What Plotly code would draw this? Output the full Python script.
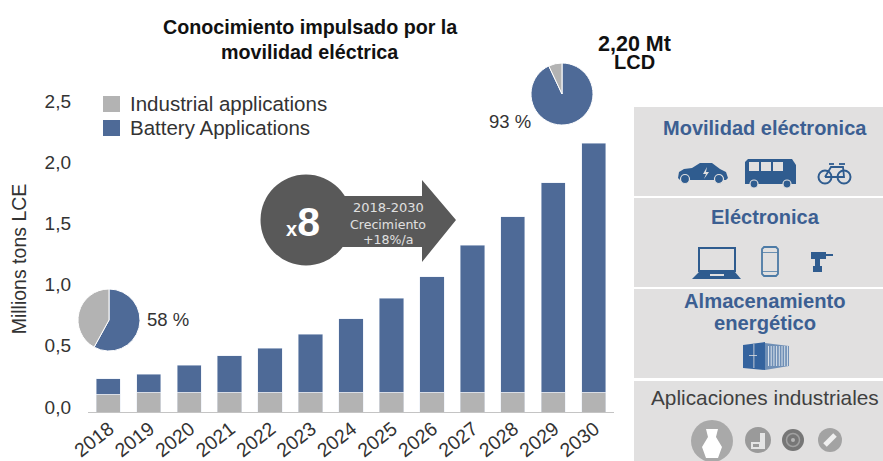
import math
import plotly.graph_objects as go

W, H = 883, 461
years = ["2018","2019","2020","2021","2022","2023","2024","2025","2026","2027","2028","2029","2030"]
industrial = [0.145,0.16,0.16,0.16,0.16,0.16,0.16,0.16,0.16,0.16,0.16,0.16,0.16]
totals = [0.27,0.31,0.38,0.46,0.52,0.635,0.76,0.93,1.105,1.364,1.595,1.873,2.195]
battery = [round(t-i,3) for t,i in zip(totals,industrial)]
pie_labels = ["Battery Applications","Industrial applications"]
pie_2018 = [58,42]
pie_2030 = [93,7]

BLUE="#4e6a97"; GREY="#b3b3b3"; ICON="#2f5c8f"; PANEL="#e1e0e0"; DARK="#595959"; TXT="#333333"
FONT="Liberation Sans"

def X(x): return x/W
def Y(y): return 1-y/H
def pt(x,y): return f"{X(x):.5f},{Y(y):.5f}"
def path(points, close=True):
    return "M"+" L".join(pt(*p) for p in points)+(" Z" if close else "")

shapes=[]
def poly(points,color,line=None,width=0,close=True):
    shapes.append(dict(type="path",xref="paper",yref="paper",path=path(points,close),
        fillcolor=color if close else "rgba(0,0,0,0)",
        line=dict(color=line or color,width=width)))
def rect(x0,y0,x1,y1,color,line=None,width=0):
    shapes.append(dict(type="rect",xref="paper",yref="paper",x0=X(x0),x1=X(x1),y0=Y(y1),y1=Y(y0),
        fillcolor=color,line=dict(color=line or color,width=width)))
def circ(cx,cy,r,color,line=None,width=0):
    shapes.append(dict(type="circle",xref="paper",yref="paper",x0=X(cx-r),x1=X(cx+r),y0=Y(cy+r),y1=Y(cy-r),
        fillcolor=color,line=dict(color=line or color,width=width)))

anns=[]
def text(x,y,s,size,color=TXT,bold=False,anchor="center",font=FONT):
    anns.append(dict(xref="paper",yref="paper",x=X(x),y=Y(y),text=f"<b>{s}</b>" if bold else s,showarrow=False,
        xanchor=anchor,yanchor="middle",font=dict(family=font,size=size,color=color)))

# right panels
for y0,y1 in [(107,196),(198,287),(289,378),(381,461)]:
    rect(634,y0,883,y1,PANEL)

# legend
rect(103,96,120,112,GREY); rect(103,120,120,136,BLUE)
text(128,103,"Industrial applications",20.5,anchor="left")
text(128,127,"Battery Applications",20.5,anchor="left")

# growth arrow
circ(306,220,45.5,DARK)
poly([(330,196),(422,196),(422,180),(456,220),(422,262),(422,247),(330,247)],DARK)

# car
poly([(678,178),(679,172),(684,169),(692,168),(700,163),(712,163),(720,169),(726,172),(728,178),(726,180),(680,180)],ICON)
for cx in (685,719): circ(cx,179,4.5,ICON,PANEL,1.2)
poly([(707,167),(703,174),(706,174),(704,179),(709,172),(706,172)],PANEL)
# bus
poly([(745,162),(748,159),(792,159),(796,165),(796,184),(745,184)],ICON)
for a,b in [(749,759),(761,771),(773,783)]: rect(a,162,b,171,PANEL)
rect(786,162,792,171,ICON)
for cx in (754,787): circ(cx,184,4,ICON,PANEL,1.2)
# bike
for cx in (825,844): circ(cx,177,6.5,"rgba(0,0,0,0)",ICON,2)
poly([(825,177),(831,167),(843,167),(844,177),(834,177),(825,177)],ICON,ICON,1.8,close=False)
poly([(829,164),(834,164)],ICON,ICON,1.8,close=False)
poly([(839,164),(845,164)],ICON,ICON,1.8,close=False)
# laptop
rect(699,248,735,271,"rgba(0,0,0,0)",ICON,2)
poly([(699,272),(735,272),(741,279),(692,279)],ICON)
rect(710,274,724,276,PANEL)
# phone
poly([(764,247),(776,247),(778,249),(778,274),(776,276),(764,276),(762,274),(762,249)],"rgba(0,0,0,0)","#4d7ba6",1.8)
rect(762,252,778,252.8,"#4d7ba6"); rect(762,271,778,271.8,"#4d7ba6")
# drill
poly([(811,252),(826,252),(826,254),(833,254),(833,256),(826,256),(826,259),(820,259),(820,266),(822,266),(822,272),(813,272),(813,266),(815,266),(815,259),(811,259)],ICON)
# container
poly([(743,345),(765,342),(765,370),(743,368)],"#34639e")
poly([(765,343),(789,346),(789,366),(765,370)],"#6f8fb6")
for i in range(8):
    xx=768+i*2.7
    rect(xx,346,xx+1,366,"#d9e1ea")
rect(749,355,757,355.8,PANEL); rect(753.5,344,754.3,368,PANEL)
# industrial icons
circ(712,441,21,"#a9a9a9")
poly([(706,429),(718,429),(716,437),(722,447),(718,458),(706,458),(702,447),(708,437)],"#ffffff")
circ(758,440,13,"#9a9a9a")
poly([(751,449),(751,442),(760,442),(760,433),(765,433),(765,449)],"#e4e4e4")
rect(753,444,759,447,"#9a9a9a")
circ(793,440,11,"#767676")
circ(793,440,6.5,"rgba(0,0,0,0)","#a0a0a0",1.5)
circ(793,440,2,"#b5b5b5")
circ(830,440,12,"#a3a3a3")
poly([(825,445),(835,435)],"#f0f0f0","#f0f0f0",5,close=False)

# text
text(310,27,"Conocimiento impulsado por la",19.7,"#111111",True)
text(310,52,"movilidad eléctrica",19.7,"#111111",True)
text(634,44,"2,20 Mt",21.5,"#111111",True)
text(634,62,"LCD",20,"#111111",True)
text(168,319,"58 %",18.5)
text(510,122,"93 %",18.5)
text(303,222,"<span style='font-size:20px'>x</span><span style='font-size:41px'>8</span>",20,"#ffffff",True)
text(388,207,"2018-2030",13,"#e0e0e0",font="DejaVu Sans")
text(388,224,"Crecimiento",12.6,"#e0e0e0",font="DejaVu Sans")
text(388,239,"+18%/a",12.6,"#e0e0e0",font="DejaVu Sans")
HB="#3c5f92"
text(765,128,"Movilidad eléctronica",20,HB,True)
text(765,217,"Eléctronica",20,HB,True)
text(765,301,"Almacenamiento",20.2,HB,True)
text(765,323,"energético",20.2,HB,True)
text(765,397,"Aplicaciones industriales",20.8,"#404040")

fig=go.Figure()
fig.add_bar(x=years,y=industrial,name="Industrial applications",marker_color=GREY)
fig.add_bar(x=years,y=battery,name="Battery Applications",marker_color=BLUE)

def pie(vals,cx,cy,r):
    fig.add_pie(values=vals,labels=pie_labels,sort=False,direction="clockwise",rotation=0,
        marker=dict(colors=[BLUE,GREY],line=dict(color="#ffffff",width=1)),
        textinfo="none",hoverinfo="label+percent",showlegend=False,
        domain=dict(x=[X(cx-r),X(cx+r)],y=[Y(cy+r),Y(cy-r)]))
pie(pie_2018,109,320,31)
pie(pie_2030,562,94,31)

fig.update_layout(width=W,height=H,margin=dict(l=0,r=0,t=0,b=0),autosize=False,
    paper_bgcolor="white",plot_bgcolor="white",barmode="stack",bargap=0.4,showlegend=False,
    separators=",.",font=dict(family=FONT,color=TXT),shapes=shapes,annotations=anns)
fig.update_xaxes(domain=[X(88),X(614)],type="category",tickangle=-38,ticks="",showgrid=False,
    showline=True,linecolor="#c4c4c4",linewidth=1,tickfont=dict(size=19.5,color=TXT),automargin=False,
    ticklabelstandoff=-3,ticklabelshift=1)
fig.update_yaxes(domain=[Y(412),Y(106)],range=[0,2.5],tickvals=[0,0.5,1,1.5,2,2.5],tickformat=".1f",
    ticks="",showgrid=False,zeroline=False,showline=False,tickfont=dict(size=19,color=TXT),
    ticklabelstandoff=16,ticklabelshift=-5,automargin=False,
    title=dict(text="Millions tons LCE",font=dict(size=19.5,color=TXT),standoff=12))
fig.write_html("out.html",config={"displayModeBar":False},
    post_script="document.documentElement.style.overflow='hidden';document.body.style.margin='0';")
